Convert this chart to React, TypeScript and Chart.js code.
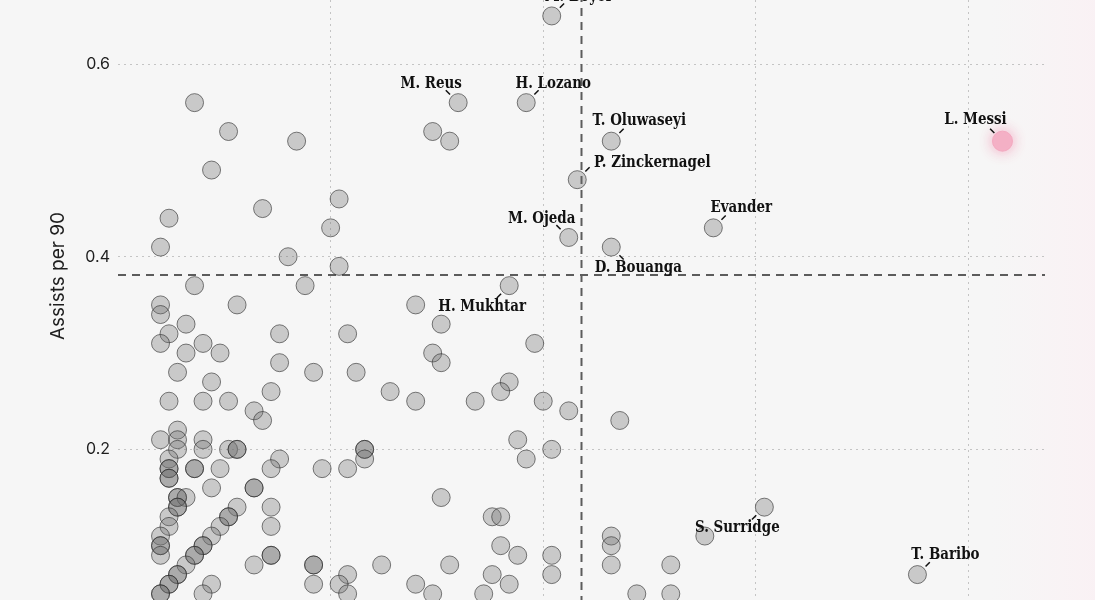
import React, { useEffect, useRef } from "react";
import { Chart, registerables } from "chart.js";

Chart.register(...registerables);

// ---- Data ----------------------------------------------------------------
// Unlabelled players (x = goals per 90, y = assists per 90)
const otherGoalsPer90 = [
  0.09,
  0.13, 0.37,
  0.21, 0.39,
  0.11,
  0.26,
  0.17,
  0.06,
  0.25,
  0.05,
  0.2,
  0.26,
  0.09, 0.22,
  0.05, 0.14, 0.35,
  0.05,
  0.08, 0.38,
  0.06, 0.19, 0.27,
  0.05, 0.1, 0.49,
  0.08, 0.12, 0.37,
  0.19, 0.38,
  0.07, 0.23, 0.28,
  0.11, 0.46,
  0.18, 0.32, 0.45,
  0.06, 0.1, 0.13, 0.35, 0.42, 0.5,
  0.16, 0.53,
  0.17, 0.59,
  0.07,
  0.05, 0.07, 0.1, 0.47,
  0.07, 0.1, 0.13, 0.14, 0.14, 0.29, 0.29, 0.51,
  0.06, 0.19, 0.29, 0.48,
  0.06, 0.06, 0.09, 0.09, 0.12, 0.18, 0.24, 0.27,
  0.06, 0.06,
  0.11, 0.16, 0.16,
  0.07, 0.07, 0.08, 0.38,
  0.07, 0.07, 0.14, 0.18,
  0.06, 0.13, 0.13, 0.44, 0.45,
  0.06, 0.12, 0.18,
  0.05, 0.11, 0.58, 0.69,
  0.05, 0.05, 0.1, 0.1, 0.45, 0.58,
  0.05, 0.09, 0.09, 0.18, 0.18, 0.47, 0.51,
  0.08, 0.16, 0.23, 0.23, 0.31, 0.39, 0.58, 0.65,
  0.07, 0.07, 0.27, 0.44, 0.51,
  0.06, 0.06, 0.11, 0.23, 0.26, 0.35, 0.46,
  0.05, 0.05, 0.1, 0.27, 0.37, 0.43, 0.61, 0.65,
];
const otherAssistsPer90 = [
  0.56,
  0.53, 0.53,
  0.52, 0.52,
  0.49,
  0.46,
  0.45,
  0.44,
  0.43,
  0.41,
  0.4,
  0.39,
  0.37, 0.37,
  0.35, 0.35, 0.35,
  0.34,
  0.33, 0.33,
  0.32, 0.32, 0.32,
  0.31, 0.31, 0.31,
  0.3, 0.3, 0.3,
  0.29, 0.29,
  0.28, 0.28, 0.28,
  0.27, 0.27,
  0.26, 0.26, 0.26,
  0.25, 0.25, 0.25, 0.25, 0.25, 0.25,
  0.24, 0.24,
  0.23, 0.23,
  0.22,
  0.21, 0.21, 0.21, 0.21,
  0.2, 0.2, 0.2, 0.2, 0.2, 0.2, 0.2, 0.2,
  0.19, 0.19, 0.19, 0.19,
  0.18, 0.18, 0.18, 0.18, 0.18, 0.18, 0.18, 0.18,
  0.17, 0.17,
  0.16, 0.16, 0.16,
  0.15, 0.15, 0.15, 0.15,
  0.14, 0.14, 0.14, 0.14,
  0.13, 0.13, 0.13, 0.13, 0.13,
  0.12, 0.12, 0.12,
  0.11, 0.11, 0.11, 0.11,
  0.1, 0.1, 0.1, 0.1, 0.1, 0.1,
  0.09, 0.09, 0.09, 0.09, 0.09, 0.09, 0.09,
  0.08, 0.08, 0.08, 0.08, 0.08, 0.08, 0.08, 0.08,
  0.07, 0.07, 0.07, 0.07, 0.07,
  0.06, 0.06, 0.06, 0.06, 0.06, 0.06, 0.06,
  0.05, 0.05, 0.05, 0.05, 0.05, 0.05, 0.05, 0.05,
];

// Labelled players
const labelledNames = [
  "M. Boyer",
  "M. Reus",
  "H. Lozano",
  "T. Oluwaseyi",
  "P. Zinckernagel",
  "M. Ojeda",
  "D. Bouanga",
  "Evander",
  "H. Mukhtar",
  "S. Surridge",
  "T. Baribo",
  "L. Messi",
];
const labelledGoalsPer90 = [0.51, 0.4, 0.48, 0.58, 0.54, 0.53, 0.58, 0.7, 0.46, 0.76, 0.94, 1.04];
const labelledAssistsPer90 = [0.65, 0.56, 0.56, 0.52, 0.48, 0.42, 0.41, 0.43, 0.37, 0.14, 0.07, 0.52];
const highlightedPlayer = "L. Messi";

// League averages (dashed reference lines)
const averageGoalsPer90 = 0.545;
const averageAssistsPer90 = 0.381;

// Axis ranges / ticks
const xRange = [0, 1.09];
const yRange = [0, 0.76];
const xGridStep = 0.25;
const yTickStep = 0.2;
const yAxisTitle = "Assists per 90";

// ---- Label placement (style, not data) ----------------------------------
const labelLayout: Record<string, { dx: number; dy: number; sx: number; sy: number }> = {
  "M. Boyer": { dx: 27, dy: -19, sx: 1, sy: -1 },
  "M. Reus": { dx: -27, dy: -19, sx: -1, sy: -1 },
  "H. Lozano": { dx: 27, dy: -19, sx: 1, sy: -1 },
  "T. Oluwaseyi": { dx: 28, dy: -20, sx: 1, sy: -1 },
  "P. Zinckernagel": { dx: 75, dy: -17, sx: 1, sy: -1 },
  "M. Ojeda": { dx: -27, dy: -19, sx: -1, sy: -1 },
  "D. Bouanga": { dx: 27, dy: 21, sx: 1, sy: 1 },
  Evander: { dx: 28, dy: -20, sx: 1, sy: -1 },
  "H. Mukhtar": { dx: -27, dy: 21, sx: -1, sy: 1 },
  "S. Surridge": { dx: -27, dy: 21, sx: -1, sy: 1 },
  "T. Baribo": { dx: 28, dy: -20, sx: 1, sy: -1 },
  "L. Messi": { dx: -27, dy: -21, sx: -1, sy: -1 },
};

const BG = "#f6f6f6";

const keepMultiples = (step: number, lo: number, hi: number) => (scale: any) => {
  scale.ticks = scale.ticks.filter((t: any) => {
    const r = t.value / step;
    return Math.abs(r - Math.round(r)) < 1e-6 && t.value > lo + 1e-9 && t.value < hi - 1e-9;
  });
};

export default function App() {
  const canvasRef = useRef<HTMLCanvasElement | null>(null);

  useEffect(() => {
    document.body.style.margin = "0";
    document.body.style.background = BG;
    const canvas = canvasRef.current;
    if (!canvas) return;

    const grayPoints = otherGoalsPer90.map((x, i) => ({ x, y: otherAssistsPer90[i] }));
    labelledNames.forEach((n, i) => {
      if (n !== highlightedPlayer) grayPoints.push({ x: labelledGoalsPer90[i], y: labelledAssistsPer90[i] });
    });
    const hi = labelledNames.indexOf(highlightedPlayer);
    const highlightPoints = [{ x: labelledGoalsPer90[hi], y: labelledAssistsPer90[hi] }];

    const bgPlugin = {
      id: "bg",
      beforeDraw(chart: any) {
        const { ctx, width, height } = chart;
        ctx.save();
        ctx.fillStyle = BG;
        ctx.fillRect(0, 0, width, height);
        const g = ctx.createLinearGradient(990, 0, width, 0);
        g.addColorStop(0, "rgba(252,240,244,0)");
        g.addColorStop(1, "rgba(252,238,243,0.6)");
        ctx.fillStyle = g;
        ctx.fillRect(990, 0, width - 990, height);
        ctx.restore();
      },
    };

    const refLinesPlugin = {
      id: "refLines",
      beforeDatasetsDraw(chart: any) {
        const { ctx, chartArea, scales } = chart;
        const x = scales.x.getPixelForValue(averageGoalsPer90);
        const y = scales.y.getPixelForValue(averageAssistsPer90);
        ctx.save();
        ctx.strokeStyle = "#5c5c5c";
        ctx.lineWidth = 2;
        ctx.setLineDash([8, 6]);
        ctx.beginPath();
        ctx.moveTo(chartArea.left, y);
        ctx.lineTo(chartArea.right, y);
        ctx.moveTo(x, chartArea.top);
        ctx.lineTo(x, chartArea.bottom);
        ctx.stroke();
        ctx.restore();
      },
    };

    const glowPlugin = {
      id: "glow",
      beforeDatasetDraw(chart: any, args: any) {
        if (args.index === 1) {
          chart.ctx.save();
          chart.ctx.shadowColor = "rgba(244,150,182,0.85)";
          chart.ctx.shadowBlur = 14;
        }
      },
      afterDatasetDraw(chart: any, args: any) {
        if (args.index === 1) chart.ctx.restore();
      },
    };

    const labelPlugin = {
      id: "labels",
      afterDatasetsDraw(chart: any) {
        const { ctx, scales } = chart;
        ctx.save();
        labelledNames.forEach((name, i) => {
          const lay = labelLayout[name];
          if (!lay) return;
          const px = scales.x.getPixelForValue(labelledGoalsPer90[i]);
          const py = scales.y.getPixelForValue(labelledAssistsPer90[i]);
          const d1 = 11.5 / Math.SQRT2;
          const d2 = 17.5 / Math.SQRT2;
          ctx.strokeStyle = "#111";
          ctx.lineWidth = 1.5;
          ctx.setLineDash([]);
          ctx.beginPath();
          ctx.moveTo(px + lay.sx * d1, py + lay.sy * d1);
          ctx.lineTo(px + lay.sx * d2, py + lay.sy * d2);
          ctx.stroke();
          ctx.save();
          ctx.translate(px + lay.dx, py + lay.dy);
          ctx.scale(0.84, 1);
          ctx.font = 'bold 16px "DejaVu Serif"';
          ctx.fillStyle = "#111";
          ctx.textAlign = "center";
          ctx.textBaseline = "middle";
          ctx.fillText(name, 0, 0);
          ctx.restore();
        });
        ctx.restore();
      },
    };

    const gridColor = "#c4c4c4";

    const chart = new Chart(canvas, {
      type: "scatter",
      data: {
        datasets: [
          {
            label: "Players",
            data: grayPoints,
            pointRadius: 9,
            pointBorderWidth: 1,
            backgroundColor: "rgba(110,110,110,0.33)",
            borderColor: "rgba(40,40,40,0.6)",
          },
          {
            label: highlightedPlayer,
            data: highlightPoints,
            pointRadius: 10,
            pointBorderWidth: 1,
            backgroundColor: "#f5b2c7",
            borderColor: "#f3a9c0",
          },
        ],
      },
      options: {
        animation: false,
        responsive: false,
        devicePixelRatio: 1,
        events: [],
        layout: { autoPadding: false, padding: { left: 0, right: 50, top: 0, bottom: 0 } },
        plugins: { legend: { display: false }, tooltip: { enabled: false } },
        scales: {
          x: {
            type: "linear",
            min: xRange[0],
            max: xRange[1],
            ticks: { display: false, stepSize: xGridStep },
            afterBuildTicks: keepMultiples(xGridStep, xRange[0], xRange[1]),
            grid: { color: gridColor, lineWidth: 1, drawTicks: false },
            border: { display: false, dash: [2, 4] },
            afterFit: (s: any) => {
              s.height = 0;
              s.paddingLeft = 0;
              s.paddingRight = 0;
            },
          },
          y: {
            type: "linear",
            min: yRange[0],
            max: yRange[1],
            ticks: {
              stepSize: yTickStep,
              padding: 0,
              color: "#1e1e1e",
              font: { family: "Inter", size: 16, lineHeight: 0.01 },
              callback: (v: any) => Number(v).toFixed(1),
            },
            afterBuildTicks: keepMultiples(yTickStep, yRange[0], yRange[1]),
            grid: {
              color: gridColor,
              lineWidth: 1,
              drawTicks: true,
              tickLength: 8,
              tickColor: "rgba(0,0,0,0)",
            },
            border: { display: false, dash: [2, 4] },
            title: {
              display: true,
              text: yAxisTitle,
              color: "#1e1e1e",
              font: { family: "Inter", size: 19 },
              padding: { top: 47, bottom: 0 },
            },
            afterFit: (s: any) => {
              s.width = 118;
              s.paddingTop = 0;
              s.paddingBottom = 0;
            },
          },
        },
      } as any,
      plugins: [bgPlugin, refLinesPlugin, glowPlugin, labelPlugin],
    });
    return () => chart.destroy();
  }, []);

  return (
    <div style={{ position: "relative", width: 1095, height: 600, overflow: "hidden", background: BG }}>
      <canvas
        ref={canvasRef}
        width={1095}
        height={732}
        style={{ position: "absolute", left: 0, top: -90, width: 1095, height: 732, display: "block" }}
      />
    </div>
  );
}
